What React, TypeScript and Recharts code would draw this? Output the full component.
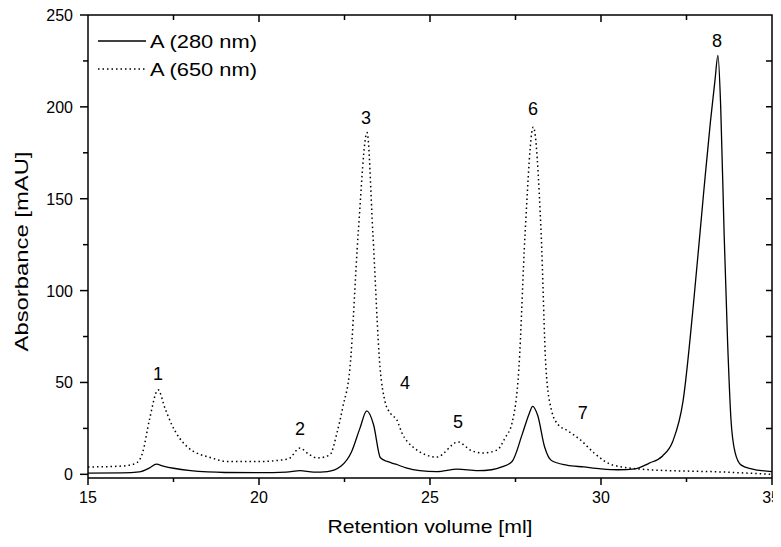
import { LineChart, Line, XAxis, YAxis, ReferenceDot } from 'recharts'

const FONT = 'Arial, "Liberation Sans", sans-serif'

// A (280 nm) trace, retention volume [ml] / absorbance [mAU]
const volume280 = [15, 16, 16.5, 16.8, 17.0, 17.2, 17.5, 18, 18.5, 19, 20, 20.8, 21.2, 21.6, 22.0, 22.4, 22.7, 22.95, 23.15, 23.35, 23.55, 23.75, 24.0, 24.3, 24.7, 25.2, 25.8, 26.4, 26.8, 27.1, 27.4, 27.7, 27.9, 28.0, 28.15, 28.35, 28.55, 29.0, 29.5, 30.0, 30.5, 31.0, 31.4, 31.8, 32.1, 32.4, 32.7, 33.0, 33.2, 33.33, 33.42, 33.5, 33.6, 33.7, 33.8, 33.92, 34.1, 34.4, 35]
const abs280 = [0.7, 0.8, 1.3, 3.5, 5.5, 4.5, 3.3, 2, 1.3, 1, 0.9, 1.2, 2, 1.2, 1.5, 4.5, 12, 25, 34.5, 27, 9, 7, 5.5, 3.5, 2, 1.5, 2.8, 2, 2.5, 4, 7, 22, 33, 37, 32, 15, 7.5, 5, 4, 3, 2.5, 3, 6, 10, 18, 40, 92, 153, 192, 214, 228, 200, 131, 73, 30, 12, 5, 3, 1.5]

// A (650 nm) trace
const volume650 = [15, 16, 16.4, 16.6, 16.8, 17.05, 17.25, 17.45, 17.9, 18.6, 19.1, 20, 20.85, 21.2, 21.45, 21.7, 22.07, 22.28, 22.45, 22.66, 22.9, 23.16, 23.33, 23.54, 23.68, 23.85, 24.03, 24.18, 24.5, 25.2, 25.82, 26.2, 26.55, 26.96, 27.2, 27.4, 27.6, 27.78, 28.02, 28.25, 28.39, 28.55, 28.75, 29.0, 29.4, 29.8, 30.35, 31.5, 33.5, 35]
const abs650 = [4, 4.5, 6, 12, 30, 46, 36, 27, 15, 9, 7, 7, 8.3, 14.3, 11, 8.9, 10.5, 22.5, 36.6, 58, 131, 186, 131, 58, 40, 33, 29.6, 22.5, 14.9, 9.4, 17.6, 13, 11.6, 13.2, 20, 28, 58, 131, 189, 131, 58, 35, 27, 24, 18.7, 11.6, 5, 2.4, 1.3, 0]

const peakNames = ['1', '2', '3', '4', '5', '6', '7', '8']
const peakVolume = [17.05, 21.2, 23.13, 24.27, 25.82, 28.01, 29.47, 33.39]
const peakLabelAbs = [55, 25, 194, 50, 28.5, 199, 33.5, 236]

const xTicks = [15, 17.5, 20, 22.5, 25, 27.5, 30, 32.5, 35]
const yTicks = [0, 25, 50, 75, 100, 125, 150, 175, 200, 225, 250]
const X_DOMAIN = [15, 35]
const Y_DOMAIN = [-2, 250]

const data280 = volume280.map((v, i) => ({ v, a: abs280[i] }))
const data650 = volume650.map((v, i) => ({ v, a: abs650[i] }))

// chart box
const W = 781
const H = 547
const M = { top: 15, right: 9, bottom: 0, left: 0 }
const Y_AXIS_W = 88
const X_AXIS_H = 69
const PLOT_W = W - M.left - M.right - Y_AXIS_W
const PLOT_H = H - M.top - M.bottom - X_AXIS_H

// top and right border of the box, drawn through the chart scales,
// plus the short inward ticks on those two edges
const [X0, X1] = X_DOMAIN
const [Y0, Y1] = Y_DOMAIN
const tickDy = (6 / PLOT_H) * (Y1 - Y0)
const tickDx = (6 / PLOT_W) * (X1 - X0)
const frameData = [{ v: X0, a: Y1 }, { v: X1, a: Y1 }, { v: X1, a: Y0 }]
const topTickData = xTicks.slice(1, -1).flatMap((t) => [
  { v: t, a: Y1 }, { v: t, a: Y1 - (t % 5 === 0 ? tickDy * 7 / 6 : tickDy * 5 / 6) }, { v: t, a: null },
])
const rightTickData = yTicks.slice(1, -1).flatMap((t) => [
  { v: X1, a: t }, { v: X1 - tickDx, a: t }, { v: X1, a: null },
])

const AXIS_LINE = { stroke: '#000', strokeWidth: 1.5 }

function BottomTick({ x, y, payload }: any) {
  const major = payload.value % 5 === 0
  const last = payload.value === X1
  return (
    <g>
      <line x1={x} x2={x} y1={y} y2={y + (major ? 7 : 4)} stroke="#000" strokeWidth={1.5} />
      {major && (
        <text x={last ? x + 8 : x} y={y + 25} textAnchor={last ? 'end' : 'middle'} fontSize={16} fontFamily={FONT}
          fill="#000">{payload.value}</text>
      )}
    </g>
  )
}

function LeftTick({ x, y, payload }: any) {
  const major = payload.value % 50 === 0
  return (
    <g>
      <line x1={x} x2={x - (major ? 8 : 5)} y1={y} y2={y} stroke="#000" strokeWidth={1.5} />
      {major && (
        <text x={x - 15} y={y + 6} textAnchor="end" fontSize={16} fontFamily={FONT} fill="#000">{payload.value}</text>
      )}
    </g>
  )
}

function LegendBox() {
  return (
    <svg width={180} height={60} style={{ position: 'absolute', left: 96, top: 25 }}>
      <line x1={2} x2={50} y1={16} y2={16} stroke="#000" strokeWidth={1.3} />
      <text x={54} y={23} fontSize={19} fontFamily={FONT} textLength={107} lengthAdjust="spacingAndGlyphs">A (280 nm)</text>
      <line x1={2} x2={50} y1={44} y2={44} stroke="#000" strokeWidth={1.5} strokeDasharray="1.5 3" />
      <text x={54} y={51} fontSize={19} fontFamily={FONT} textLength={107} lengthAdjust="spacingAndGlyphs">A (650 nm)</text>
    </svg>
  )
}

export default function App() {
  return (
    <div style={{ position: 'relative', margin: -8, width: W, height: H }}>
      <LineChart width={W} height={H} margin={M}>
        <XAxis dataKey="v" type="number" domain={X_DOMAIN} ticks={xTicks}
          axisLine={AXIS_LINE} tickLine={false} tickSize={0} tickMargin={0} interval={0}
          tick={<BottomTick />} height={X_AXIS_H}
          label={({ viewBox }: any) => (
            <text x={viewBox.x + viewBox.width / 2} y={533} textAnchor="middle" fontSize={19} fontFamily={FONT}
              fill="#000" textLength={205} lengthAdjust="spacingAndGlyphs">Retention volume [ml]</text>
          )} />
        <YAxis type="number" domain={Y_DOMAIN} ticks={yTicks}
          axisLine={AXIS_LINE} tickLine={false} tickSize={0} tickMargin={0} interval={0}
          tick={<LeftTick />} width={Y_AXIS_W}
          label={({ viewBox }: any) => {
            const cy = viewBox.y + viewBox.height / 2 + 5
            return (
              <text x={22} y={cy} transform={`rotate(-90 22 ${cy})`} dy={6} textAnchor="middle" fontSize={19}
                fontFamily={FONT} fill="#000" textLength={200} lengthAdjust="spacingAndGlyphs">Absorbance [mAU]</text>
            )
          }} />
        <Line data={frameData} dataKey="a" type="linear" stroke="#000" strokeWidth={1.5} dot={false}
          activeDot={false} isAnimationActive={false} legendType="none" />
        <Line data={topTickData} dataKey="a" type="linear" stroke="#000" strokeWidth={1.5} dot={false}
          activeDot={false} isAnimationActive={false} legendType="none" />
        <Line data={rightTickData} dataKey="a" type="linear" stroke="#000" strokeWidth={1.5} dot={false}
          activeDot={false} isAnimationActive={false} legendType="none" />
        <Line data={data650} dataKey="a" type="monotone" stroke="#000" strokeWidth={1.5}
          strokeDasharray="1.5 3" dot={false} isAnimationActive={false} />
        <Line data={data280} dataKey="a" type="monotone" stroke="#000" strokeWidth={1.3}
          dot={false} isAnimationActive={false} />
        {peakNames.map((n, i) => (
          <ReferenceDot key={n} x={peakVolume[i]} y={peakLabelAbs[i]} r={0}
            fill="none" stroke="none" ifOverflow="visible"
            label={{ value: n, position: 'center', fontSize: 18, fontFamily: FONT, fill: '#000' }} />
        ))}
      </LineChart>
      <LegendBox />
    </div>
  )
}
